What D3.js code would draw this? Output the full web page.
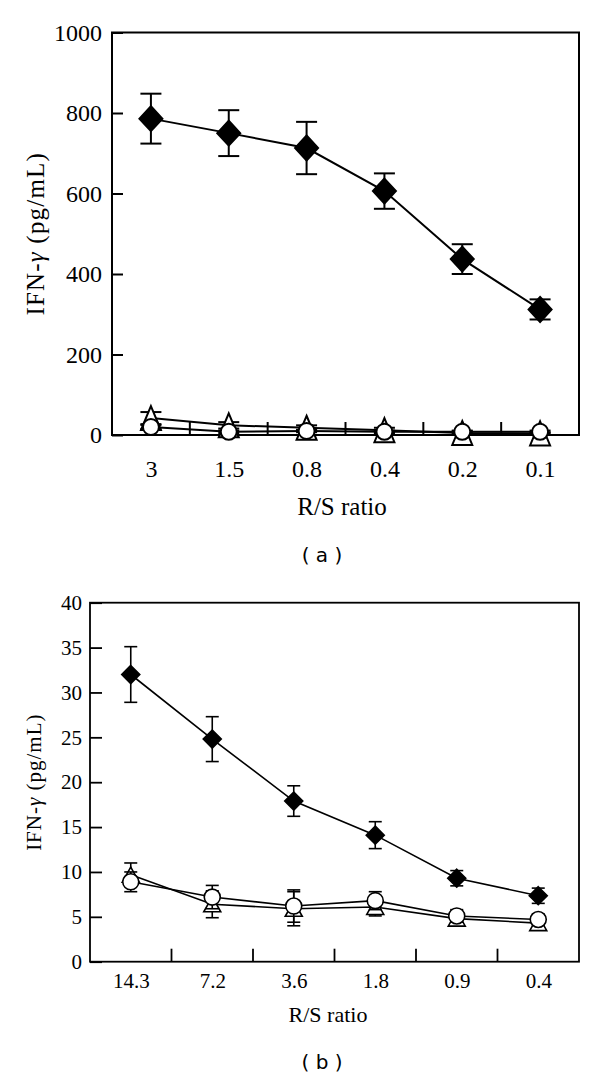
<!DOCTYPE html>
<html>
<head>
<meta charset="utf-8">
<script src="https://cdn.jsdelivr.net/npm/d3@7"></script>
<style>
  html, body { margin: 0; padding: 0; background: #fff; }
  svg { display: block; }
</style>
</head>
<body>
<svg id="chart" width="600" height="1077"></svg>
<script>
// ---- Panel (a) data ----
const catsA = ["3", "1.5", "0.8", "0.4", "0.2", "0.1"];
const diamondA = [786, 750, 713, 606, 437, 312];
const diamondErrA = [62, 57, 65, 44, 37, 25];
const triangleA = [42, 24, 18, 12, 5, 4];
const triangleErrA = [15, 8, 6, 6, 4, 3];
const circleA = [20, 8, 10, 8, 8, 8];
const circleErrA = [5, 3, 3, 3, 3, 3];
const yTicksA = [0, 200, 400, 600, 800, 1000];

// ---- Panel (b) data ----
const catsB = ["14.3", "7.2", "3.6", "1.8", "0.9", "0.4"];
const diamondB = [32.0, 24.8, 17.9, 14.1, 9.3, 7.35];
const diamondErrB = [3.1, 2.5, 1.7, 1.5, 0.85, 0.85];
const triangleB = [9.7, 6.4, 5.9, 6.1, 4.8, 4.3];
const triangleErrB = [1.3, 1.5, 1.9, 1.0, 0.5, 0.5];
const circleB = [8.9, 7.2, 6.2, 6.8, 5.1, 4.7];
const circleErrB = [1.1, 1.3, 1.8, 1.0, 0.7, 0.6];
const yTicksB = [0, 5, 10, 15, 20, 25, 30, 35, 40];

const svg = d3.select("#chart");
const serif = "'Liberation Serif', 'Times New Roman', serif";

function panel(cfg) {
  const g = svg.append("g");
  const x = d3.scalePoint().domain(cfg.cats).range([cfg.left, cfg.right]).padding(0.5);
  const xb = d3.scaleBand().domain(cfg.cats).range([cfg.left, cfg.right]).padding(0);
  const y = d3.scaleLinear().domain([0, cfg.ymax]).range([cfg.bottom, cfg.top]);

  // frame
  g.append("rect")
    .attr("x", cfg.left).attr("y", cfg.top)
    .attr("width", cfg.right - cfg.left).attr("height", cfg.bottom - cfg.top)
    .attr("fill", "none").attr("stroke", "#000").attr("stroke-width", cfg.frameW);

  // y axis (inward ticks)
  const ya = g.append("g").attr("transform", `translate(${cfg.left},0)`)
    .call(d3.axisLeft(y).tickValues(cfg.yTicks).tickFormat(d3.format("d"))
      .tickSizeInner(-cfg.yTickLen).tickSizeOuter(0).tickPadding(cfg.yPad));
  ya.select(".domain").remove();
  ya.selectAll(".tick line").attr("stroke", "#000").attr("stroke-width", cfg.frameW);
  ya.selectAll(".tick text").attr("font-family", serif).attr("font-size", cfg.tickFont).attr("fill", "#000");

  // x axis labels
  const xa = g.append("g").attr("transform", `translate(0,${cfg.bottom})`)
    .call(d3.axisBottom(x).tickSize(0).tickPadding(cfg.xPad));
  xa.select(".domain").remove();
  xa.selectAll(".tick text").attr("font-family", serif).attr("font-size", cfg.tickFont).attr("fill", "#000");

  // x boundary ticks (inward)
  g.append("g").selectAll("line").data(cfg.cats.slice(1)).join("line")
    .attr("x1", d => xb(d)).attr("x2", d => xb(d))
    .attr("y1", cfg.bottom).attr("y2", cfg.bottom - cfg.xTickLen)
    .attr("stroke", "#000").attr("stroke-width", cfg.frameW);

  // axis titles
  g.append("text")
    .attr("x", cfg.xTitleX).attr("y", cfg.xTitleY)
    .attr("text-anchor", "middle").attr("font-family", serif).attr("font-size", cfg.titleFont)
    .text("R/S ratio");
  const yl = g.append("text")
    .attr("transform", `translate(${cfg.yTitleX},${(cfg.top + cfg.bottom) / 2}) rotate(-90)`)
    .attr("text-anchor", "middle").attr("font-family", serif).attr("font-size", cfg.yTitleFont)
    .attr("letter-spacing", cfg.yTitleLS);
  yl.append("tspan").text("IFN-");
  yl.append("tspan").attr("font-style", "italic").text("γ");
  yl.append("tspan").text(" (pg/mL)");

  // caption
  svg.append("text")
    .attr("x", cfg.capX).attr("y", cfg.capY)
    .attr("text-anchor", "middle").attr("font-family", "'DejaVu Sans', sans-serif").attr("font-size", 20)
    .text(cfg.caption);

  const line = d3.line().x((d, i) => x(cfg.cats[i])).y(d => y(d));

  function series(vals, errs, shape) {
    const sg = g.append("g");
    sg.append("path").datum(vals).attr("d", line)
      .attr("fill", "none").attr("stroke", "#000").attr("stroke-width", cfg.lineW);
    const eb = sg.append("g").selectAll("g").data(vals).join("g");
    eb.append("line")
      .attr("x1", (d, i) => x(cfg.cats[i])).attr("x2", (d, i) => x(cfg.cats[i]))
      .attr("y1", (d, i) => y(d - errs[i])).attr("y2", (d, i) => y(d + errs[i]))
      .attr("stroke", "#000").attr("stroke-width", cfg.lineW);
    [-1, 1].forEach(s => {
      eb.append("line")
        .attr("x1", (d, i) => x(cfg.cats[i]) - cfg.capW / 2).attr("x2", (d, i) => x(cfg.cats[i]) + cfg.capW / 2)
        .attr("y1", (d, i) => y(d + s * errs[i])).attr("y2", (d, i) => y(d + s * errs[i]))
        .attr("stroke", "#000").attr("stroke-width", cfg.lineW);
    });
    const m = sg.append("g").selectAll("path").data(vals).join("path")
      .attr("transform", (d, i) => `translate(${x(cfg.cats[i])},${y(d)})`)
      .attr("stroke", "#000").attr("stroke-width", cfg.lineW);
    if (shape === "diamond") {
      const w = cfg.dW / 2, h = cfg.dH / 2;
      m.attr("d", `M0,${-h}L${w},0L0,${h}L${-w},0Z`).attr("fill", "#000");
    } else if (shape === "triangle") {
      const w = cfg.tW / 2, h = cfg.tH / 2;
      m.attr("d", `M0,${-h}L${w},${h}L${-w},${h}Z`).attr("fill", "#fff");
    } else {
      const r = cfg.cR;
      m.attr("d", `M${r},0A${r},${r} 0 1,1 ${-r},0A${r},${r} 0 1,1 ${r},0Z`).attr("fill", "#fff");
    }
  }

  series(cfg.tri, cfg.triErr, "triangle");
  series(cfg.cir, cfg.cirErr, "circle");
  series(cfg.dia, cfg.diaErr, "diamond");
}

panel({
  cats: catsA, left: 112, right: 579, top: 32.5, bottom: 435, ymax: 1000, yTicks: yTicksA,
  dia: diamondA, diaErr: diamondErrA, tri: triangleA, triErr: triangleErrA, cir: circleA, cirErr: circleErrA,
  frameW: 2, lineW: 2, yTickLen: 11, xTickLen: 13, yPad: 10, xPad: 25,
  tickFont: 24, titleFont: 25, yTitleFont: 25, yTitleLS: 1.2, yTitleX: 44,
  xTitleX: 342, xTitleY: 515, capX: 322, capY: 562, caption: "( a )",
  dW: 23, dH: 25, tW: 20, tH: 24, cR: 8, capW: 21
});

panel({
  cats: catsB, left: 90, right: 579, top: 602.7, bottom: 961.7, ymax: 40, yTicks: yTicksB,
  dia: diamondB, diaErr: diamondErrB, tri: triangleB, triErr: triangleErrB, cir: circleB, cirErr: circleErrB,
  frameW: 1.8, lineW: 1.6, yTickLen: 12, xTickLen: 13, yPad: 8, xPad: 11,
  tickFont: 21, titleFont: 22, yTitleFont: 21, yTitleLS: 1.0, yTitleX: 41,
  xTitleX: 328, xTitleY: 1021.5, capX: 322, capY: 1068.5, caption: "( b )",
  dW: 18, dH: 18, tW: 17, tH: 15, cR: 8, capW: 13
});
</script>
</body>
</html>
